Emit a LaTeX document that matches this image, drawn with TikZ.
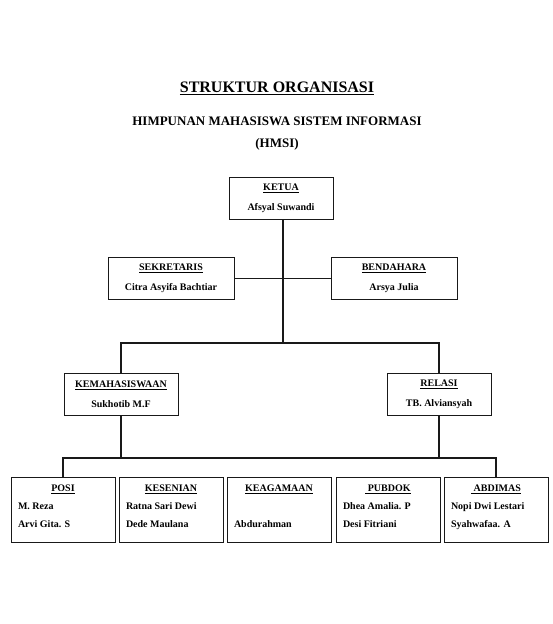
\documentclass[tikz,border=0pt]{standalone}
\usepackage{fontspec}
\setmainfont{Liberation Serif}
\usepackage{xcolor}
\definecolor{hitam}{RGB}{25,25,25}

\begin{document}
\begin{tikzpicture}[x=1pt,y=-1pt,
        kotak/.style={draw=hitam,line width=1pt,inner sep=0pt,minimum height=42pt,align=center,font=\fontsize{10}{12}\selectfont\bfseries},
        bidang/.style={draw=hitam,line width=1pt,inner sep=0pt,minimum width=104pt,minimum height=65pt,font=\fontsize{10}{18}\selectfont\bfseries},
        hubung/.style={draw=hitam,line width=1.3pt}]
        \useasboundingbox (0,0) rectangle (553,624);

        % judul
        \node (judul) at (277,88) {\fontsize{16}{19}\selectfont\bfseries\underline{STRUKTUR ORGANISASI}};
        \node (himpunan) at (277,121) {\fontsize{13}{15}\selectfont\bfseries HIMPUNAN MAHASISWA SISTEM INFORMASI};
        \node (singkatan) at (277,144) {\fontsize{13}{15}\selectfont\bfseries (HMSI)};

        % pengurus inti
        \node[kotak,minimum width=104pt] (ketua) at (281,198) {\underline{KETUA}\\[8pt]Afsyal Suwandi};
        \node[kotak,minimum width=126pt] (sekretaris) at (171,278.5) {\underline{SEKRETARIS}\\[8pt]Citra Asyifa Bachtiar};
        \node[kotak,minimum width=126pt] (bendahara) at (394,278.5) {\underline{BENDAHARA}\\[8pt]Arsya Julia};
        \node[kotak,minimum width=114pt] (kema) at (121,394) {\underline{KEMAHASISWAAN}\\[8pt]Sukhotib M.F};
        \node[kotak,minimum width=104pt] (relasi) at (439,394) {\underline{RELASI}\\[8pt]TB. Alviansyah};

        % divisi
        \node[bidang] (posi) at (63,509.5) {
            \begin{minipage}{90pt}
                \centering\underline{POSI}\par
                \raggedright M. Reza\\ Arvi Gita. S\rule[-6pt]{0pt}{6pt}
            \end{minipage}
        };
        \node[bidang] (kesenian) at (171,509.5) {
            \begin{minipage}{90pt}
                \centering\underline{KESENIAN}\par
                \raggedright Ratna Sari Dewi\\ Dede Maulana\rule[-6pt]{0pt}{6pt}
            \end{minipage}
        };
        \node[bidang] (keagamaan) at (279,509.5) {
            \begin{minipage}{90pt}
                \centering\underline{KEAGAMAAN}\par
                \raggedright \mbox{}\\ Abdurahman\rule[-6pt]{0pt}{6pt}
            \end{minipage}
        };
        \node[bidang] (pubdok) at (388,509.5) {
            \begin{minipage}{90pt}
                \centering\underline{\ PUBDOK}\par
                \raggedright Dhea Amalia. P\\ Desi Fitriani\rule[-6pt]{0pt}{6pt}
            \end{minipage}
        };
        \node[bidang] (abdimas) at (496,509.5) {
            \begin{minipage}{90pt}
                \centering\underline{\ ABDIMAS}\par
                \raggedright Nopi Dwi Lestari\\ Syahwafaa. A\rule[-6pt]{0pt}{6pt}
            \end{minipage}
        };

        % garis penghubung
        \coordinate (simpul) at (283,343);
        \coordinate (cabang) at (0,458);
        \draw[hubung] (ketua.south -| simpul) -- (simpul);
        \draw[hubung] (sekretaris) -- (bendahara);
        \draw[hubung] (kema.north) |- (simpul) -| (relasi.north);
        \draw[hubung] (kema.south) -- (kema.south |- cabang);
        \draw[hubung] (relasi.south) -- (relasi.south |- cabang);
        \draw[hubung] (posi.north) -- (posi.north |- cabang) -| (abdimas.north);
    \end{tikzpicture}
\end{document}
